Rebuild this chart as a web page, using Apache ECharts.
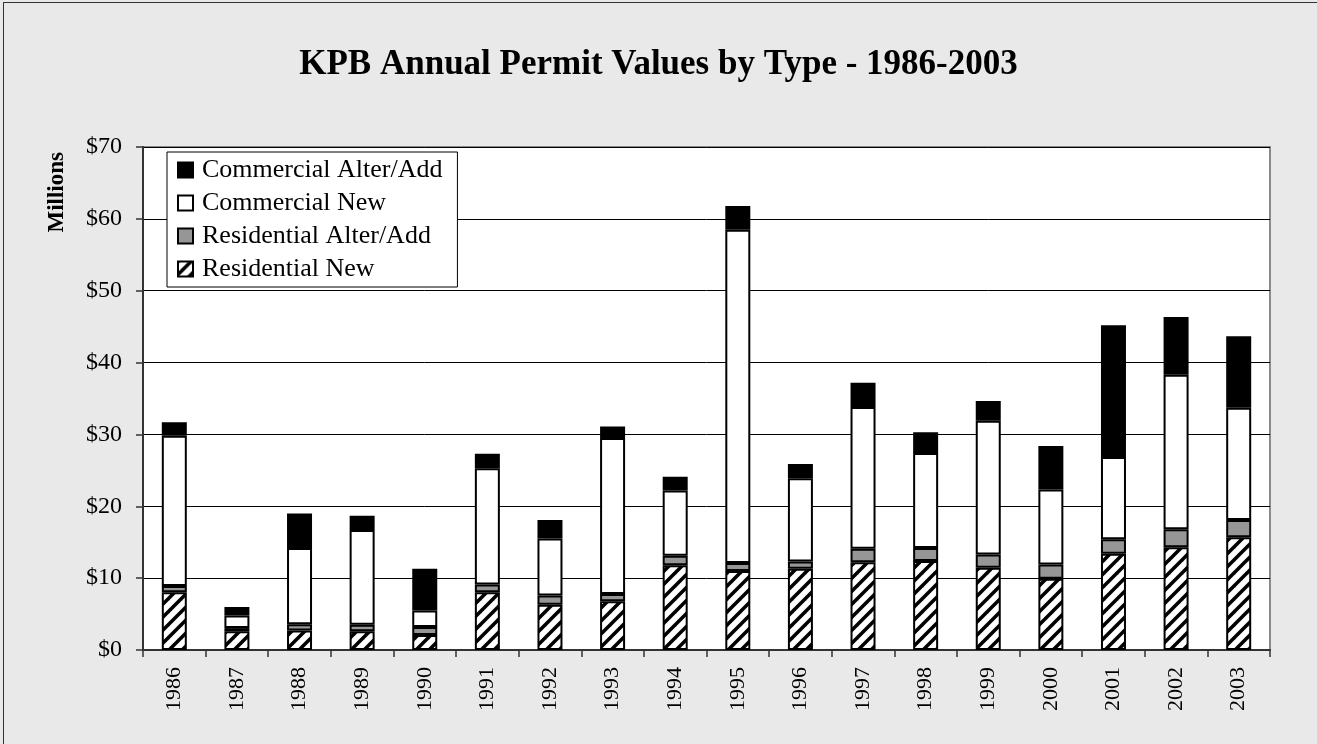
<!DOCTYPE html>
<html>
<head>
<meta charset="utf-8">
<script src="https://cdn.jsdelivr.net/npm/echarts@6/dist/echarts.min.js"></script>
<style>
  html, body { margin: 0; padding: 0; background: #e9e9e9; overflow: hidden; }
  #frame { position: absolute; left: 3px; top: 2px; width: 1330px; height: 760px;
           border-left: 1.5px solid #333; border-top: 1.5px solid #333; }
  #chart { position: absolute; left: 0; top: 0; width: 1317px; height: 744px; }
</style>
</head>
<body>
<div id="frame"></div>
<div id="chart"></div>
<script>
// Annual permit values, millions of dollars
const years = ['1986','1987','1988','1989','1990','1991','1992','1993','1994',
               '1995','1996','1997','1998','1999','2000','2001','2002','2003'];
const residentialNew = [8.05, 2.6, 2.7, 2.6, 2.1, 8.05, 6.3, 6.8, 11.8, 11.0, 11.3, 12.2, 12.4, 11.45, 9.9, 13.4, 14.3, 15.7];
const residentialAlter = [0.85, 0.45, 0.9, 0.9, 1.1, 1.05, 1.3, 1.0, 1.3, 1.1, 1.0, 1.9, 1.8, 1.85, 2.0, 2.0, 2.5, 2.4];
const commercialNew = [20.9, 1.75, 10.6, 13.2, 2.3, 16.2, 7.9, 21.7, 9.1, 46.4, 11.6, 19.7, 13.2, 18.6, 10.45, 11.45, 21.5, 15.6];
const commercialAlter = [1.9, 1.2, 4.8, 2.0, 5.8, 2.0, 2.6, 1.6, 1.9, 3.3, 2.0, 3.4, 2.9, 2.75, 6.05, 18.35, 8.05, 9.95];
const yTicks = [0, 10, 20, 30, 40, 50, 60, 70];

const SERIF = "'Liberation Serif', 'Times New Roman', 'DejaVu Serif', serif";

// Diagonal "/" hatch tile for the Residential New segments
function makeHatch() {
  const s = 13;
  const c = document.createElement('canvas');
  c.width = s; c.height = s;
  const g = c.getContext('2d');
  g.fillStyle = '#fff';
  g.fillRect(0, 0, s, s);
  g.strokeStyle = '#000';
  g.lineWidth = 3.5;
  g.lineCap = 'square';
  [0, s, 2 * s].forEach(k => {
    g.beginPath();
    g.moveTo(k - s - 1, s + 1);
    g.lineTo(k + 1, -1);
    g.stroke();
  });
  return c;
}
const hatch = { image: makeHatch(), repeat: 'repeat' };

const border = { borderColor: '#000', borderWidth: 2 };
function stackSeries(name, data, color) {
  return {
    name: name, type: 'bar', stack: 'total', data: data, barWidth: 25,
    itemStyle: Object.assign({ color: color }, border),
    emphasis: { disabled: true }
  };
}

const chart = echarts.init(document.getElementById('chart'), null, { renderer: 'canvas' });
chart.setOption({
  animation: false,
  backgroundColor: 'transparent',
  title: {
    text: 'KPB Annual Permit Values by Type - 1986-2003',
    left: 'center', top: 42,
    textStyle: { fontFamily: SERIF, fontSize: 35, fontWeight: 'bold', color: '#000' }
  },
  legend: {
    orient: 'vertical', left: 167, top: 152,
    data: ['Commercial Alter/Add', 'Commercial New', 'Residential Alter/Add', 'Residential New'],
    backgroundColor: '#fff', borderColor: '#000', borderWidth: 1,
    padding: [5, 15, 5, 10],
    itemWidth: 15, itemHeight: 15, itemGap: 7,
    icon: 'rect',
    textStyle: { fontFamily: SERIF, fontSize: 26, color: '#000', padding: [0, 0, 0, 4] }
  },
  graphic: [{
    type: 'text', left: 46, top: 152, rotation: Math.PI / 2,
    style: { text: 'Millions', font: "bold 23px " + SERIF, fill: '#000' }
  }],
  grid: {
    left: 143, right: 47, top: 147, bottom: 94,
    show: true, backgroundColor: '#fff', borderColor: '#8a8a8a', borderWidth: 2
  },
  xAxis: {
    type: 'category', data: years,
    axisLine: { lineStyle: { color: '#333', width: 2 } },
    axisTick: { show: true, length: 7, alignWithLabel: false, lineStyle: { color: '#333', width: 1.5 } },
    axisLabel: { rotate: 90, margin: 17, fontFamily: SERIF, fontSize: 22, color: '#000' }
  },
  yAxis: {
    type: 'value', min: yTicks[0], max: yTicks[yTicks.length - 1], interval: 10,
    axisLine: { show: true, lineStyle: { color: '#333', width: 2 } },
    axisTick: { show: true, length: 7, lineStyle: { color: '#333', width: 1.5 } },
    axisLabel: { margin: 21, fontFamily: SERIF, fontSize: 24, color: '#000', formatter: v => '$' + v },
    splitLine: { lineStyle: { color: '#000', width: 1 } }
  },
  series: [
    stackSeries('Residential New', residentialNew, hatch),
    stackSeries('Residential Alter/Add', residentialAlter, '#969696'),
    stackSeries('Commercial New', commercialNew, '#ffffff'),
    stackSeries('Commercial Alter/Add', commercialAlter, '#000000')
  ]
});
</script>
</body>
</html>
